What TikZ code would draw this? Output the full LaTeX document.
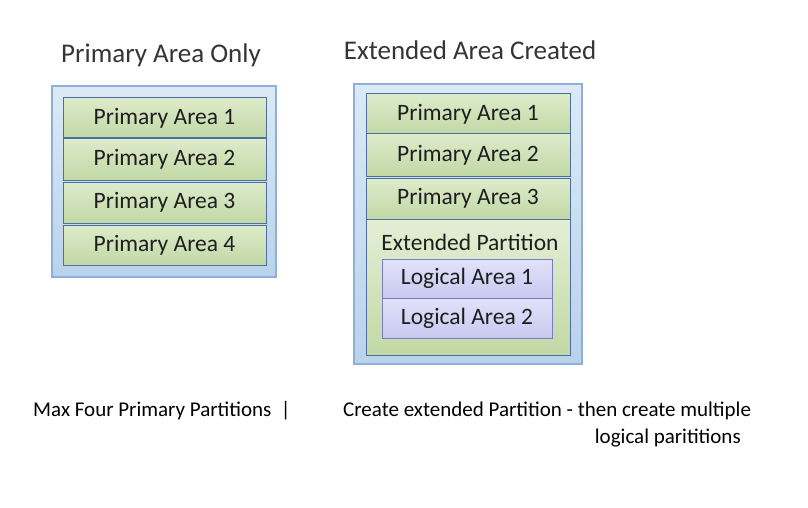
\documentclass[tikz,border=0pt]{standalone}
\usepackage{fontspec}
\setmainfont{Carlito}
\usepackage{xcolor}
\usepackage{tikz}
\definecolor{outerline}{HTML}{8EB0D8}
\definecolor{outertop}{HTML}{DCE9F6}
\definecolor{outerbot}{HTML}{B9D2EC}
\definecolor{primline}{HTML}{4A6FA0}
\definecolor{primtop}{HTML}{DDEBCB}
\definecolor{primbot}{HTML}{C2D8A5}
\definecolor{logline}{HTML}{7B7BC7}
\definecolor{logtop}{HTML}{E2E2FB}
\definecolor{logbot}{HTML}{C8C8F0}
\definecolor{txt}{HTML}{1E1E1E}
\tikzset{
  outerbox/.style={draw=outerline,line width=1.2pt,top color=outertop,bottom color=outerbot,inner sep=0pt},
  primbox/.style={draw=primline,line width=1pt,top color=primtop,bottom color=primbot,inner sep=0pt,text=txt,font=\fontsize{23.5}{26}\selectfont},
  extbox/.style={draw=primline,line width=1pt,top color=primtop!80,bottom color=primbot,inner sep=0pt},
  logbox/.style={draw=logline,line width=1pt,top color=logtop,bottom color=logbot,inner sep=0pt,text=txt,font=\fontsize{23.5}{26}\selectfont},
  title/.style={text=txt!90,font=\fontsize{27}{30}\selectfont,inner sep=0pt},
  note/.style={font=\fontsize{21}{24}\selectfont,inner sep=0pt}
}

\begin{document}
\begin{tikzpicture}[x=1pt,y=-1pt]
\useasboundingbox[fill=white] (0,0) rectangle (808,508);
% left: primary only
\node[title] (ltitle) at (161,55) {Primary Area Only};
\node[outerbox,minimum width=224pt,minimum height=191pt] (louter) at (164,181.5) {};
\node[primbox,minimum width=203pt,minimum height=40pt] (lp1) at (164.5,118) {Primary Area 1};
\node[primbox,minimum width=203pt,minimum height=42pt] (lp2) at (164.5,159) {Primary Area 2};
\node[primbox,minimum width=203pt,minimum height=41pt] (lp3) at (164.5,202.5) {Primary Area 3};
\node[primbox,minimum width=203pt,minimum height=40pt] (lp4) at (164.5,245) {Primary Area 4};
% right: extended created
\node[title] (rtitle) at (470,50) {Extended Area Created};
\node[outerbox,minimum width=228pt,minimum height=280pt] (router) at (468,224) {};
\node[primbox,minimum width=204pt,minimum height=40pt] (rp1) at (468,114) {Primary Area 1};
\node[primbox,minimum width=204pt,minimum height=42pt] (rp2) at (468,155) {Primary Area 2};
\node[primbox,minimum width=204pt,minimum height=41pt] (rp3) at (468,198.5) {Primary Area 3};
\node[extbox,minimum width=204pt,minimum height=136pt] (rext) at (468,287) {};
\node[text=txt,font=\fontsize{23.5}{26}\selectfont,inner sep=0pt] (rextlbl) at (470,242) {Extended Partition};
\node[logbox,minimum width=170pt,minimum height=39pt] (rl1) at (467,278.5) {Logical Area 1};
\node[logbox,minimum width=170pt,minimum height=40pt] (rl2) at (467,318) {Logical Area 2};
% notes
\node[note,anchor=west] (lnote) at (33,411) {Max Four Primary Partitions~~|};
\node[note,anchor=west] (rnote1) at (343,411) {Create extended Partition - then create multiple};
\node[note,anchor=east] (rnote2) at (741,438) {logical parititions};
\end{tikzpicture}
\end{document}
